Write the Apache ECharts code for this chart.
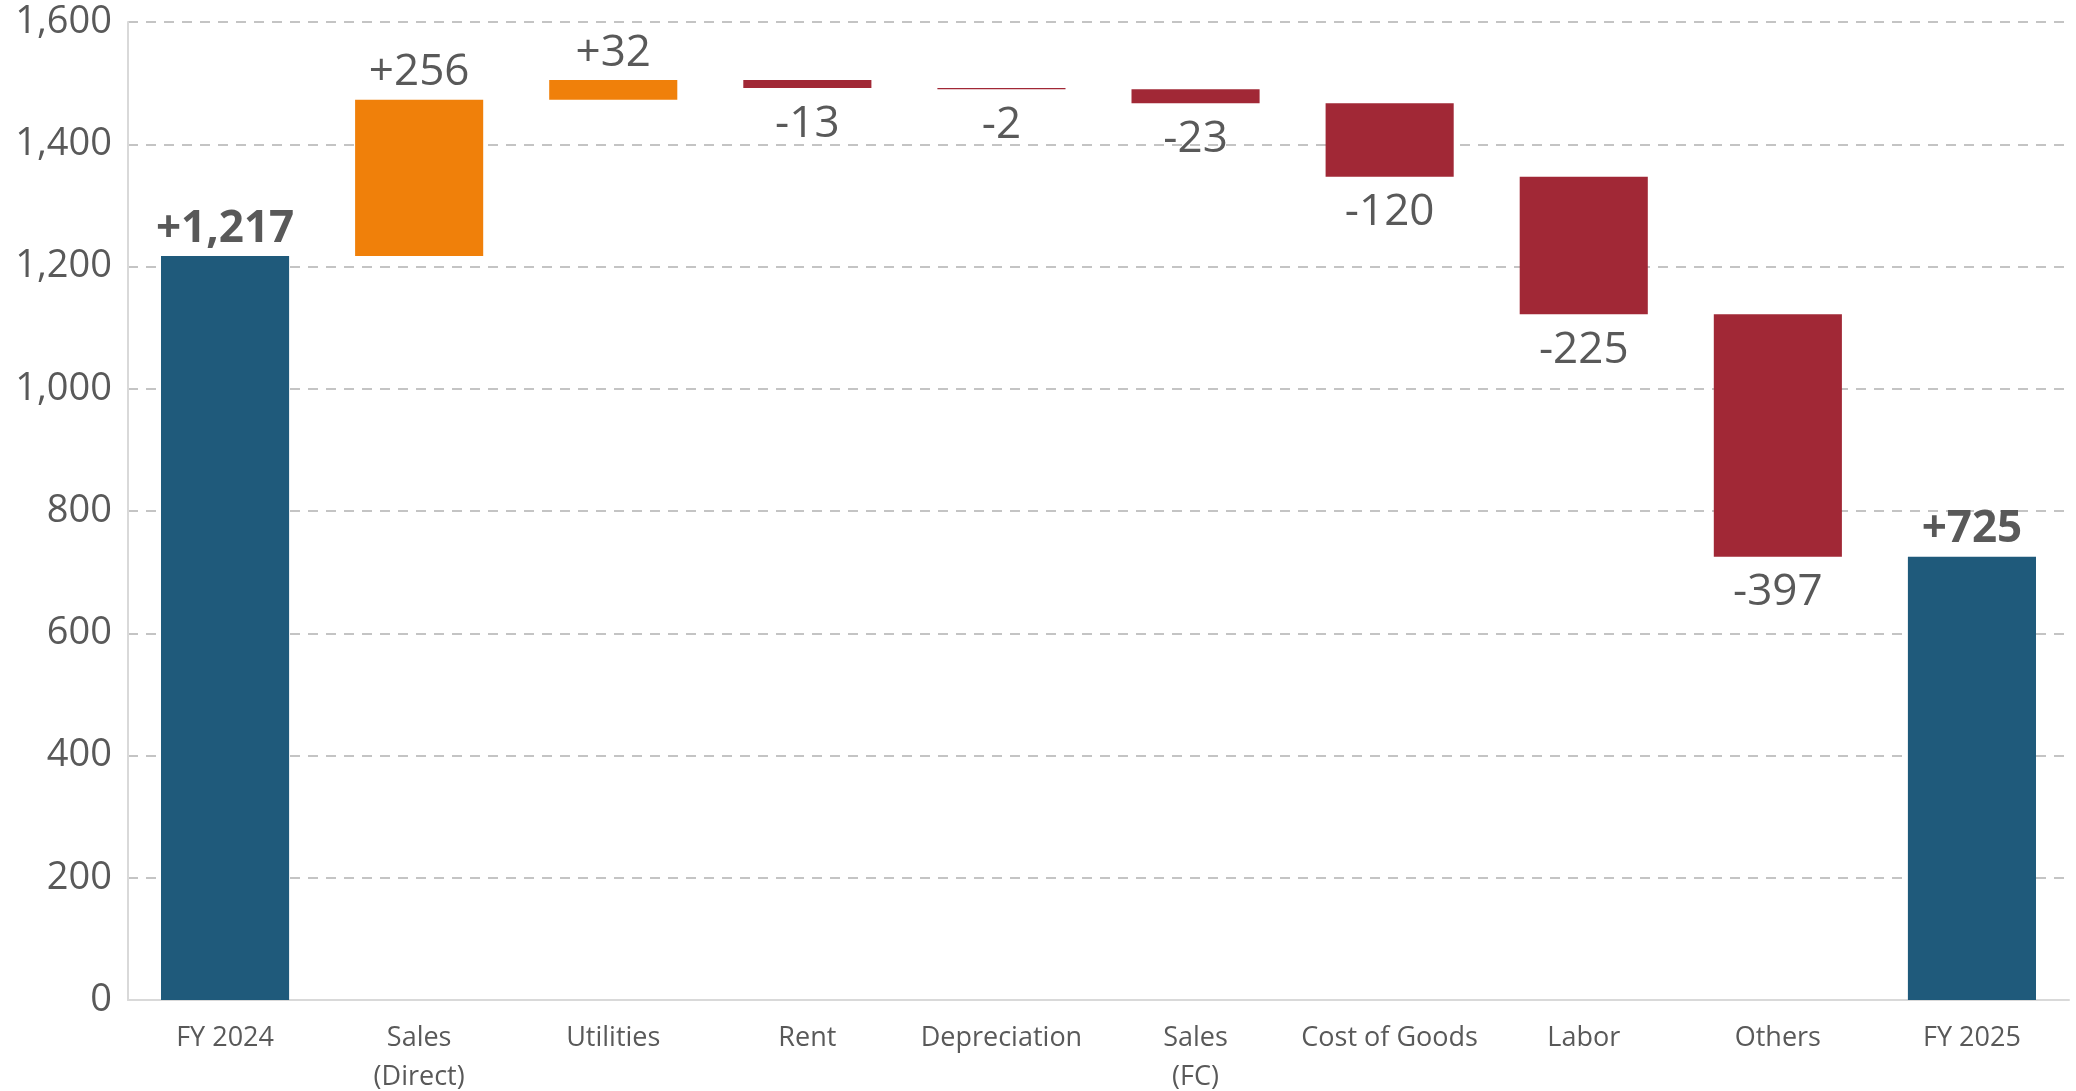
<!DOCTYPE html>
<html><head><meta charset="utf-8">
<script src="https://cdn.jsdelivr.net/npm/echarts@6/dist/echarts.min.js"></script>
<style>html,body{margin:0;padding:0;background:#fff}#c{width:2076px;height:1091px}</style>
</head><body><div id="c"></div>
<script>
const categories = ['FY 2024','Sales\n(Direct)','Utilities','Rent','Depreciation','Sales\n(FC)','Cost of Goods','Labor','Others','FY 2025'];
const changes = [1217, 256, 32, -13, -2, -23, -120, -225, -397, 725];
const kinds = ['total','inc','inc','dec','dec','dec','dec','dec','dec','total'];
const yTicks = [0, 200, 400, 600, 800, 1000, 1200, 1400, 1600];

const colors = {total:'#1F5A7B', inc:'#F0800A', dec:'#A12836'};
const baseData = [], barData = [];
let running = 0;
changes.forEach((d, i) => {
  const k = kinds[i];
  let base, h;
  if (k === 'total') { base = 0; h = d; running = d; }
  else if (d >= 0) { base = running; h = d; running += d; }
  else { base = running + d; h = -d; running += d; }
  baseData.push(base);
  const txt = (d >= 0 ? '+' : '') + d.toLocaleString('en-US');
  barData.push({
    value: h,
    itemStyle: {color: colors[k]},
    label: {
      show: true,
      position: (k === 'dec') ? 'bottom' : 'top',
      distance: (k === 'dec') ? 14 : 5,
      formatter: txt,
      fontWeight: k === 'total' ? 'bold' : 'normal',
      fontSize: 44,
      color: '#595959',
      fontFamily: 'Open Sans'
    }
  });
});

const chart = echarts.init(document.getElementById('c'));
chart.setOption({
  animation: false,
  grid: {left: 128, right: 7, top: 22, bottom: 91, containLabel: false, outerBoundsMode: 'none'},
  xAxis: {
    type: 'category',
    data: categories,
    axisLine: {show: true, lineStyle: {color: '#D9D9D9', width: 2}},
    axisTick: {show: false},
    axisLabel: {color: '#595959', fontSize: 27, fontFamily: 'Open Sans', margin: 19, lineHeight: 39, interval: 0}
  },
  yAxis: {
    type: 'value',
    min: yTicks[0], max: yTicks[yTicks.length - 1], interval: 200,
    axisLine: {show: true, lineStyle: {color: '#D9D9D9', width: 2}},
    axisTick: {show: false},
    axisLabel: {color: '#595959', fontSize: 38, fontFamily: 'Open Sans', margin: 16,
      formatter: v => v.toLocaleString('en-US')},
    splitLine: {show: true, lineStyle: {color: '#C4C4C4', width: 2, type: [10, 8]}}
  },
  series: [
    {type: 'bar', stack: 'w', data: baseData, itemStyle: {color: 'transparent'}, silent: true, barCategoryGap: '34%'},
    {type: 'bar', stack: 'w', data: barData, barCategoryGap: '34%'}
  ]
});
</script>
</body></html>
